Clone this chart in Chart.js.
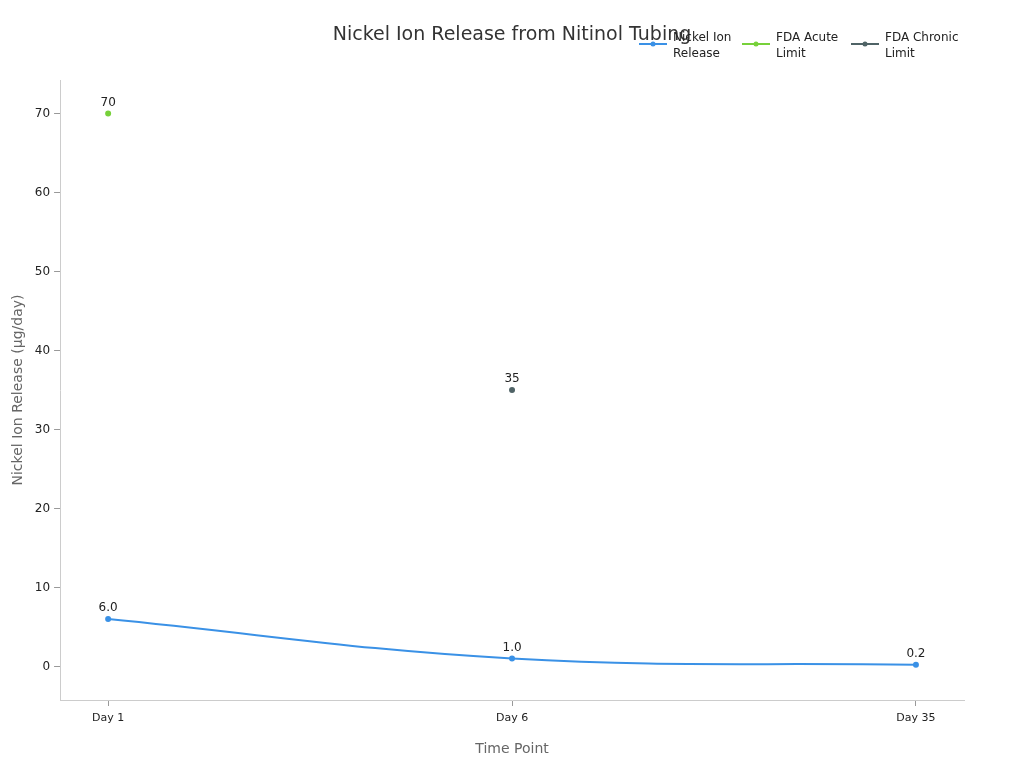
<!DOCTYPE html>
<html>
<head>
<meta charset="utf-8">
<script src="https://cdn.jsdelivr.net/npm/chart.js@4.4.0/dist/chart.umd.min.js"></script>
<style>
  body { margin: 0; background: #fff; }
  #wrap { width: 1024px; height: 768px; }
</style>
</head>
<body>
<div id="wrap"><canvas id="c"></canvas></div>
<script>
// 数据
const timePoints = ['Day 1', 'Day 6', 'Day 35'];
const nickelRelease = [6.0, 1.0, 0.2];
const fdaAcute = [70, null, null];
const fdaChronic = [null, 35, null];
const yTicks = [0, 10, 20, 30, 40, 50, 60, 70];
const legendNames = [['Nickel Ion', 'Release'], ['FDA Acute', 'Limit'], ['FDA Chronic', 'Limit']];

function toXY(arr) {
    return arr.map((v, i) => ({ x: i, y: v }));
}

// 标签、标题、图例
const labelPlugin = {
    id: 'labels',
    afterDatasetsDraw(chart) {
        const ctx = chart.ctx;
        ctx.save();
        ctx.font = '12px "DejaVu Sans"';
        ctx.fillStyle = '#222';
        ctx.textAlign = 'center';
        chart.data.datasets.forEach((ds, di) => {
            chart.getDatasetMeta(di).data.forEach((pt, i) => {
                const v = ds.data[i].y;
                if (v === null) return;
                const txt = di === 0 ? v.toFixed(1) : String(v);
                ctx.fillText(txt, pt.x, pt.y - 8);
            });
        });
        ctx.font = '19px "DejaVu Sans"';
        ctx.fillStyle = '#333';
        ctx.fillText('Nickel Ion Release from Nitinol Tubing', 512, 40);

        // 图例
        const xs = [639, 742, 851];
        ctx.font = '12px "DejaVu Sans"';
        ctx.textAlign = 'left';
        chart.data.datasets.forEach((ds, di) => {
            const x = xs[di];
            ctx.strokeStyle = ds.borderColor;
            ctx.fillStyle = ds.borderColor;
            ctx.lineWidth = 2;
            ctx.beginPath();
            ctx.moveTo(x, 44);
            ctx.lineTo(x + 28, 44);
            ctx.stroke();
            ctx.beginPath();
            ctx.arc(x + 14, 44, 2.5, 0, Math.PI * 2);
            ctx.fill();
            ctx.fillStyle = '#222';
            ctx.fillText(legendNames[di][0], x + 34, 41);
            ctx.fillText(legendNames[di][1], x + 34, 57);
        });
        ctx.restore();
    }
};

new Chart(document.getElementById('c'), {
    type: 'line',
    data: {
        datasets: [
            { label: 'Nickel Ion Release', data: toXY(nickelRelease), borderColor: '#3a91e6', backgroundColor: '#3a91e6', tension: 0.4, pointRadius: 2, borderWidth: 2 },
            { label: 'FDA Acute Limit', data: toXY(fdaAcute), borderColor: '#77d13a', backgroundColor: '#77d13a', pointRadius: 2, borderWidth: 2 },
            { label: 'FDA Chronic Limit', data: toXY(fdaChronic), borderColor: '#4f6366', backgroundColor: '#4f6366', pointRadius: 2, borderWidth: 2 }
        ]
    },
    options: {
        responsive: true,
        maintainAspectRatio: false,
        animation: false,
        layout: { padding: { top: 80, right: 60, bottom: 6, left: 6 } },
        plugins: {
            legend: { display: false },
            tooltip: { enabled: false }
        },
        scales: {
            x: {
                type: 'linear',
                min: -0.119,
                max: 2.119,
                afterBuildTicks: s => { s.ticks = [0, 1, 2].map(v => ({ value: v })); },
                ticks: { callback: v => timePoints[v], font: { size: 11, family: 'DejaVu Sans' }, color: '#222', padding: 6 },
                grid: { drawOnChartArea: false, drawTicks: true, tickLength: 6, color: '#999' },
                border: { color: '#ccc' },
                title: { display: true, text: 'Time Point', font: { size: 14, family: 'DejaVu Sans' }, color: '#666', padding: { top: 10 } }
            },
            y: {
                min: -4.25,
                max: 74.25,
                afterBuildTicks: s => { s.ticks = yTicks.map(v => ({ value: v })); },
                ticks: { font: { size: 12, family: 'DejaVu Sans' }, color: '#222', padding: 4 },
                grid: { drawOnChartArea: false, drawTicks: true, tickLength: 6, color: '#999' },
                border: { color: '#ccc' },
                title: { display: true, text: 'Nickel Ion Release (µg/day)', font: { size: 14, family: 'DejaVu Sans' }, color: '#666' }
            }
        }
    },
    plugins: [labelPlugin]
});
</script>
</body>
</html>
